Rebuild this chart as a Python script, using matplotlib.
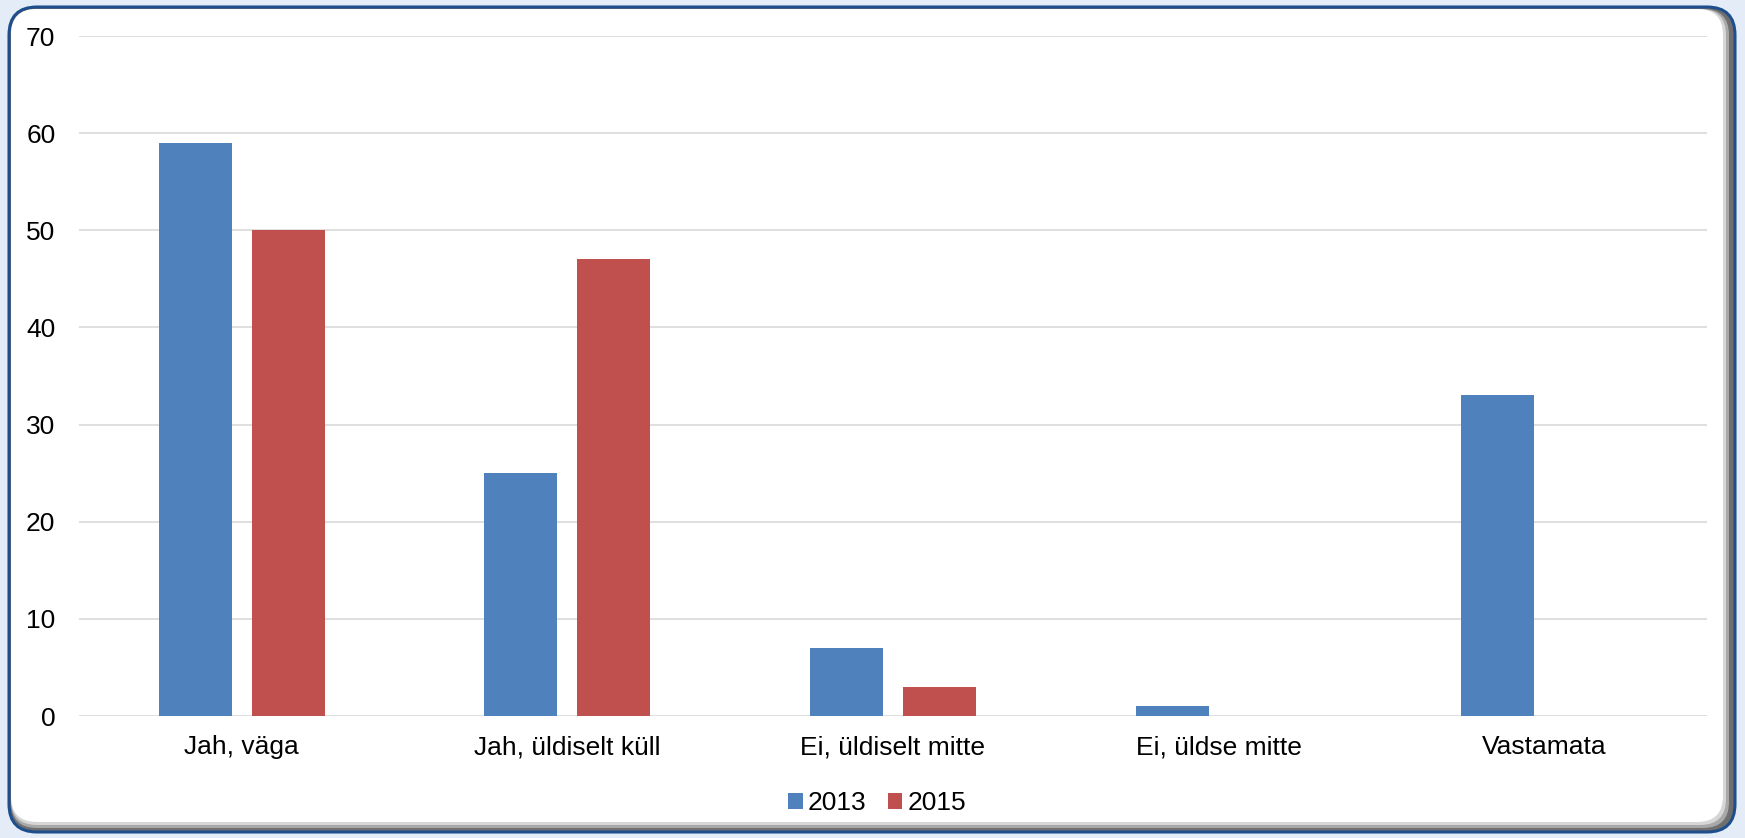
import matplotlib
matplotlib.use('Agg')
import numpy as np
import matplotlib.pyplot as plt
from matplotlib.patches import FancyBboxPatch

categories = ['Jah, väga', 'Jah, üldiselt küll', 'Ei, üldiselt mitte', 'Ei, üldse mitte', 'Vastamata']
values_2013 = [59, 25, 7, 1, 33]
values_2015 = [50, 47, 3, 0, 0]
yticks = [0, 10, 20, 30, 40, 50, 60, 70]

plt.rcParams['font.family'] = ['Liberation Sans', 'DejaVu Sans']

W, H = 1745, 838
fig = plt.figure(figsize=(W / 100, H / 100), dpi=100)
fig.patch.set_facecolor('#E4EDF7')

# background axes in pixel units for the rounded frame
bg = fig.add_axes([0, 0, 1, 1], zorder=0)
bg.set_xlim(0, W)
bg.set_ylim(H, 0)
bg.axis('off')

def box(x0, y0, x1, y1, r, **kw):
    bg.add_patch(FancyBboxPatch((x0 + r, y0 + r), x1 - x0 - 2 * r, y1 - y0 - 2 * r,
                                boxstyle='round,pad=%f' % r, **kw))

box(9, 7, 1735, 832, 28, facecolor='#6f6f6f', edgecolor='#1F4E8C', lw=2.2)
box(11, 9, 1729, 828, 26, facecolor='#a8a8a8', edgecolor='none')
box(11, 9, 1726, 825, 26, facecolor='#d6d6d6', edgecolor='none')
box(11, 9, 1723, 822, 26, facecolor='white', edgecolor='none')

ax = fig.add_axes([79 / W, 1 - 716 / H, (1707 - 79) / W, (716 - 36) / H], zorder=2)
ax.set_facecolor('none')

x = np.arange(len(categories))
bw = 0.224
off = 0.143
ax.bar(x - off, values_2013, bw, color='#4F81BD', label='2013', zorder=3)
ax.bar(x + off, values_2015, bw, color='#C0504D', label='2015', zorder=3)

ax.set_xlim(-0.5, len(categories) - 0.5)
ax.set_ylim(0, 70)
ax.set_yticks(yticks)
ax.set_xticks(x)
ax.set_xticklabels(categories)
ax.tick_params(axis='both', length=0, labelsize=19, colors='black')
ax.tick_params(axis='y', pad=17)
ax.tick_params(axis='x', pad=14)
ax.grid(axis='y', color='#D9D9D9', lw=1.2, zorder=0)
for s in ax.spines.values():
    s.set_visible(False)

ax.legend(loc='center', bbox_to_anchor=(0.5026, 1 - 803 / H), bbox_transform=fig.transFigure,
          ncol=2, frameon=False, fontsize=19, handlelength=0.55, handleheight=0.55,
          handletextpad=0.2, columnspacing=0.8)

fig.savefig('out.png', dpi=100, facecolor=fig.get_facecolor())
